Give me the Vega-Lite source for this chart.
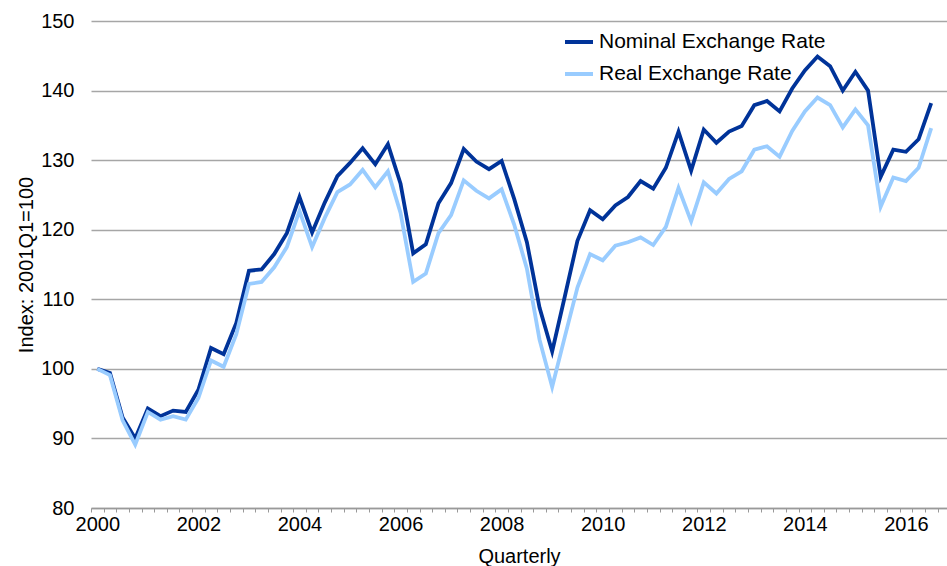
{
  "$schema": "https://vega.github.io/schema/vega-lite/v6.json",
  "autosize": {"type": "none"},
  "padding": {"left": 91, "top": 21, "right": 0, "bottom": 58},
  "width": 856,
  "height": 487,
  "background": "white",
  "config": {
    "view": {"stroke": null},
    "font": "Liberation Sans",
    "axis": {"labelFont": "Liberation Sans", "titleFont": "Liberation Sans", "labelColor": "#000000", "titleColor": "#000000", "labelFontSize": 20, "titleFontSize": 20, "titleFontWeight": "normal"},
    "legend": {"labelFont": "Liberation Sans"}
  },
  "data": {
    "values": [
      {"q": 0, "quarter": "2000Q1", "nominal": 100.0, "real": 100.0},
      {"q": 1, "quarter": "2000Q2", "nominal": 99.4, "real": 99.1},
      {"q": 2, "quarter": "2000Q3", "nominal": 93.0, "real": 92.6},
      {"q": 3, "quarter": "2000Q4", "nominal": 90.0, "real": 89.1},
      {"q": 4, "quarter": "2001Q1", "nominal": 94.3, "real": 93.8},
      {"q": 5, "quarter": "2001Q2", "nominal": 93.2, "real": 92.7},
      {"q": 6, "quarter": "2001Q3", "nominal": 94.0, "real": 93.2},
      {"q": 7, "quarter": "2001Q4", "nominal": 93.8, "real": 92.7},
      {"q": 8, "quarter": "2002Q1", "nominal": 97.0, "real": 95.8},
      {"q": 9, "quarter": "2002Q2", "nominal": 103.0, "real": 101.2},
      {"q": 10, "quarter": "2002Q3", "nominal": 102.1, "real": 100.3},
      {"q": 11, "quarter": "2002Q4", "nominal": 106.6, "real": 105.0},
      {"q": 12, "quarter": "2003Q1", "nominal": 114.1, "real": 112.2},
      {"q": 13, "quarter": "2003Q2", "nominal": 114.3, "real": 112.5},
      {"q": 14, "quarter": "2003Q3", "nominal": 116.5, "real": 114.6},
      {"q": 15, "quarter": "2003Q4", "nominal": 119.5, "real": 117.5},
      {"q": 16, "quarter": "2004Q1", "nominal": 124.7, "real": 122.7},
      {"q": 17, "quarter": "2004Q2", "nominal": 119.6, "real": 117.5},
      {"q": 18, "quarter": "2004Q3", "nominal": 123.9, "real": 121.7},
      {"q": 19, "quarter": "2004Q4", "nominal": 127.7, "real": 125.4},
      {"q": 20, "quarter": "2005Q1", "nominal": 129.6, "real": 126.5},
      {"q": 21, "quarter": "2005Q2", "nominal": 131.7, "real": 128.6},
      {"q": 22, "quarter": "2005Q3", "nominal": 129.4, "real": 126.1},
      {"q": 23, "quarter": "2005Q4", "nominal": 132.3, "real": 128.4},
      {"q": 24, "quarter": "2006Q1", "nominal": 126.6, "real": 122.4},
      {"q": 25, "quarter": "2006Q2", "nominal": 116.6, "real": 112.5},
      {"q": 26, "quarter": "2006Q3", "nominal": 117.9, "real": 113.7},
      {"q": 27, "quarter": "2006Q4", "nominal": 123.8, "real": 119.5},
      {"q": 28, "quarter": "2007Q1", "nominal": 126.7, "real": 122.1},
      {"q": 29, "quarter": "2007Q2", "nominal": 131.6, "real": 127.1},
      {"q": 30, "quarter": "2007Q3", "nominal": 129.8, "real": 125.6},
      {"q": 31, "quarter": "2007Q4", "nominal": 128.7, "real": 124.5},
      {"q": 32, "quarter": "2008Q1", "nominal": 129.9, "real": 125.8},
      {"q": 33, "quarter": "2008Q2", "nominal": 124.4, "real": 120.7},
      {"q": 34, "quarter": "2008Q3", "nominal": 118.2, "real": 114.4},
      {"q": 35, "quarter": "2008Q4", "nominal": 108.8, "real": 104.2},
      {"q": 36, "quarter": "2009Q1", "nominal": 102.5, "real": 97.4},
      {"q": 37, "quarter": "2009Q2", "nominal": 110.4, "real": 104.6},
      {"q": 38, "quarter": "2009Q3", "nominal": 118.4, "real": 111.7},
      {"q": 39, "quarter": "2009Q4", "nominal": 122.8, "real": 116.5},
      {"q": 40, "quarter": "2010Q1", "nominal": 121.5, "real": 115.6},
      {"q": 41, "quarter": "2010Q2", "nominal": 123.5, "real": 117.7},
      {"q": 42, "quarter": "2010Q3", "nominal": 124.7, "real": 118.2},
      {"q": 43, "quarter": "2010Q4", "nominal": 127.0, "real": 118.9},
      {"q": 44, "quarter": "2011Q1", "nominal": 125.9, "real": 117.8},
      {"q": 45, "quarter": "2011Q2", "nominal": 128.9, "real": 120.4},
      {"q": 46, "quarter": "2011Q3", "nominal": 134.1, "real": 126.0},
      {"q": 47, "quarter": "2011Q4", "nominal": 128.5, "real": 121.2},
      {"q": 48, "quarter": "2012Q1", "nominal": 134.4, "real": 126.8},
      {"q": 49, "quarter": "2012Q2", "nominal": 132.5, "real": 125.2},
      {"q": 50, "quarter": "2012Q3", "nominal": 134.1, "real": 127.3},
      {"q": 51, "quarter": "2012Q4", "nominal": 134.9, "real": 128.4},
      {"q": 52, "quarter": "2013Q1", "nominal": 137.9, "real": 131.5},
      {"q": 53, "quarter": "2013Q2", "nominal": 138.5, "real": 132.0},
      {"q": 54, "quarter": "2013Q3", "nominal": 137.0, "real": 130.5},
      {"q": 55, "quarter": "2013Q4", "nominal": 140.3, "real": 134.2},
      {"q": 56, "quarter": "2014Q1", "nominal": 142.9, "real": 137.0},
      {"q": 57, "quarter": "2014Q2", "nominal": 144.9, "real": 139.0},
      {"q": 58, "quarter": "2014Q3", "nominal": 143.5, "real": 137.9},
      {"q": 59, "quarter": "2014Q4", "nominal": 140.0, "real": 134.7},
      {"q": 60, "quarter": "2015Q1", "nominal": 142.7, "real": 137.3},
      {"q": 61, "quarter": "2015Q2", "nominal": 140.0, "real": 135.0},
      {"q": 62, "quarter": "2015Q3", "nominal": 127.6, "real": 123.3},
      {"q": 63, "quarter": "2015Q4", "nominal": 131.5, "real": 127.5},
      {"q": 64, "quarter": "2016Q1", "nominal": 131.2, "real": 127.0},
      {"q": 65, "quarter": "2016Q2", "nominal": 133.0, "real": 128.9},
      {"q": 66, "quarter": "2016Q3", "nominal": 138.2, "real": 134.6}
    ]
  },
  "encoding": {
    "x": {
      "field": "q",
      "type": "quantitative",
      "scale": {"domain": [-0.5, 67.25], "nice": false, "zero": false},
      "axis": {
        "title": "Quarterly",
        "values": [-0.5, 0.5, 1.5, 2.5, 3.5, 4.5, 5.5, 6.5, 7.5, 8.5, 9.5, 10.5, 11.5, 12.5, 13.5, 14.5, 15.5, 16.5, 17.5, 18.5, 19.5, 20.5, 21.5, 22.5, 23.5, 24.5, 25.5, 26.5, 27.5, 28.5, 29.5, 30.5, 31.5, 32.5, 33.5, 34.5, 35.5, 36.5, 37.5, 38.5, 39.5, 40.5, 41.5, 42.5, 43.5, 44.5, 45.5, 46.5, 47.5, 48.5, 49.5, 50.5, 51.5, 52.5, 53.5, 54.5, 55.5, 56.5, 57.5, 58.5, 59.5, 60.5, 61.5, 62.5, 63.5, 64.5, 65.5, 66.5],
        "labelExpr": "(datum.value + 0.5) % 8 == 0 ? '' + (2000 + (datum.value + 0.5) / 4) : ''",
        "labelOffset": 6.3,
        "labelOverlap": false,
        "labelFlush": false,
        "labelBound": false,
        "labelPadding": 2,
        "tickSize": 4,
        "tickColor": "#999999",
        "tickWidth": 1,
        "domainColor": "#999999",
        "domainWidth": 1.5,
        "grid": false,
        "titlePadding": 12
      }
    },
    "color": {
      "type": "nominal",
      "scale": {"domain": ["Nominal Exchange Rate", "Real Exchange Rate"], "range": ["#003399", "#99CCFF"]},
      "legend": {
        "title": null,
        "orient": "none",
        "legendX": 472,
        "legendY": 5,
        "symbolType": "stroke",
        "symbolSize": 784,
        "symbolStrokeWidth": 4,
        "labelFontSize": 21,
        "labelColor": "#000000",
        "labelLimit": 400,
        "labelOffset": 4,
        "rowPadding": 6,
        "padding": 0
      }
    }
  },
  "layer": [
    {
      "mark": {"type": "line", "strokeWidth": 3.8, "strokeJoin": "miter"},
      "encoding": {
        "y": {
          "field": "nominal",
          "type": "quantitative",
          "scale": {"domain": [80, 150], "nice": false, "zero": false},
          "axis": {
            "title": "Index: 2001Q1=100",
            "values": [80, 90, 100, 110, 120, 130, 140, 150],
            "grid": true,
            "gridColor": "#A6A6A6",
            "gridWidth": 1.3,
            "domain": false,
            "ticks": false,
            "labelPadding": 17,
            "titlePadding": 4
          }
        },
        "color": {"datum": "Nominal Exchange Rate"}
      }
    },
    {
      "mark": {"type": "line", "strokeWidth": 3.8, "strokeJoin": "miter"},
      "encoding": {
        "y": {"field": "real", "type": "quantitative"},
        "color": {"datum": "Real Exchange Rate"}
      }
    }
  ]
}
